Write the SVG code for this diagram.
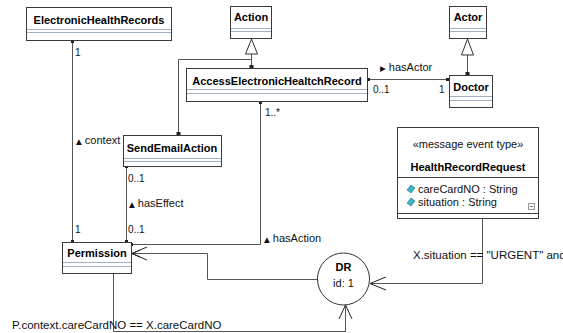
<svg xmlns="http://www.w3.org/2000/svg" width="563" height="333" viewBox="0 0 563 333">
<style>
.box{fill:#fff;stroke:#3a3a3a;stroke-width:1}
.sep{stroke:#9fb0c2;stroke-width:1}
.nm{font-family:"Liberation Sans",Arial,sans-serif;font-size:11px;font-weight:bold;fill:#000;text-anchor:middle}
.lb{font-family:"Liberation Sans",Arial,sans-serif;font-size:11px;fill:#111}
.ml{font-family:"Liberation Sans",Arial,sans-serif;font-size:10px;fill:#111}
.ct{font-family:"Liberation Sans",Arial,sans-serif;font-size:11.5px;fill:#111}
.tri{font-family:"DejaVu Sans",sans-serif;font-size:7.5px}
.ln{fill:none;stroke:#555;stroke-width:1}
.ar{fill:none;stroke:#222;stroke-width:1}
.gen{fill:#fff;stroke:#333;stroke-width:1}
.sq{fill:#222}
.dia{fill:#3bb3c3;stroke:#1d6f7a;stroke-width:0.6}
</style>

<g id="connectors">
  <path class="ln" d="M72.5,41 V242"/>
  <rect class="sq" x="71" y="40" width="3" height="3"/>
  <rect class="sq" x="71" y="240" width="3" height="3"/>
  <path class="ln" d="M126.5,166 V242"/>
  <rect class="sq" x="125" y="165" width="3" height="3"/>
  <rect class="sq" x="125" y="240" width="3" height="3"/>
  <path class="ln" d="M260.5,102 V244.5 H131"/>
  <rect class="sq" x="259" y="101" width="3" height="3"/>
  <rect class="sq" x="130" y="243" width="3" height="3"/>
  <path class="ln" d="M367,79.5 H449"/>
  <rect class="sq" x="367" y="78" width="3" height="3"/>
  <rect class="sq" x="446" y="78" width="3" height="3"/>
  <path class="ln" d="M251.5,54 V68"/>
  <polygon class="gen" points="251.5,39 245.5,54 257.5,54"/>
  <rect class="sq" x="249.5" y="65" width="4" height="4"/>
  <path class="ln" d="M251.5,59.5 H178.5 V135"/>
  <rect class="sq" x="176.5" y="132" width="4" height="4"/>
  <path class="ln" d="M467.5,55 V75"/>
  <polygon class="gen" points="467.5,39 461.5,55 473.5,55"/>
  <rect class="sq" x="465.5" y="72" width="4" height="4"/>
  <path class="ln" d="M317,279.5 H207.5 V253.5 H132"/>
  <path class="ar" d="M147,247 L132,253.5 L147,260 M140,250 L132,253.5 L140,257"/>
  <path class="ln" d="M482.5,219 V283.5 H370"/>
  <path class="ar" d="M386,277 L370,283.5 L386,290"/>
  <path class="ln" d="M113.5,273 V331.5 H345.5 V305"/>
  <path class="ar" d="M339,319 L345.5,305 L352,319"/>
</g>

<g id="ElectronicHealthRecords">
  <rect class="box" x="26.5" y="7.5" width="145" height="33"/>
  <line class="sep" x1="27" y1="29.5" x2="171" y2="29.5"/>
  <line class="sep" x1="27" y1="32.5" x2="171" y2="32.5"/>
  <text class="nm" x="99" y="24">ElectronicHealthRecords</text>
</g>

<g id="Action">
  <rect class="box" x="230.5" y="6.5" width="41" height="32"/>
  <line class="sep" x1="231" y1="28.5" x2="271" y2="28.5"/>
  <line class="sep" x1="231" y1="31.5" x2="271" y2="31.5"/>
  <text class="nm" x="251" y="21">Action</text>
</g>

<g id="Actor">
  <rect class="box" x="449.5" y="6.5" width="37" height="32"/>
  <line class="sep" x1="450" y1="28.5" x2="486" y2="28.5"/>
  <line class="sep" x1="450" y1="31.5" x2="486" y2="31.5"/>
  <text class="nm" x="468" y="21">Actor</text>
</g>

<g id="AccessElectronicHealtchRecord">
  <rect class="box" x="186.5" y="68.5" width="181" height="33"/>
  <line class="sep" x1="187" y1="89.5" x2="367" y2="89.5"/>
  <line class="sep" x1="187" y1="93.5" x2="367" y2="93.5"/>
  <text class="nm" x="277" y="85">AccessElectronicHealtchRecord</text>
</g>

<g id="Doctor">
  <rect class="box" x="449.5" y="75.5" width="43" height="32"/>
  <line class="sep" x1="450" y1="96.5" x2="492" y2="96.5"/>
  <line class="sep" x1="450" y1="100.5" x2="492" y2="100.5"/>
  <text class="nm" x="471" y="91">Doctor</text>
</g>

<g id="SendEmailAction">
  <rect class="box" x="123.5" y="135.5" width="98" height="31"/>
  <line class="sep" x1="124" y1="158.5" x2="221" y2="158.5"/>
  <line class="sep" x1="124" y1="161.5" x2="221" y2="161.5"/>
  <text class="nm" x="172" y="152">SendEmailAction</text>
</g>

<g id="Permission">
  <rect class="box" x="62.5" y="242.5" width="69" height="31"/>
  <line class="sep" x1="63" y1="262.5" x2="131" y2="262.5"/>
  <line class="sep" x1="63" y1="266.5" x2="131" y2="266.5"/>
  <text class="nm" x="97" y="257">Permission</text>
</g>

<g id="HealthRecordRequest">
  <rect class="box" x="397.5" y="127.5" width="141" height="91"/>
  <line class="box" x1="398" y1="177.5" x2="538" y2="177.5"/>
  <line class="box" x1="398" y1="213.5" x2="538" y2="213.5"/>
  <text class="lb" x="468" y="148" text-anchor="middle">«message event type»</text>
  <text class="nm" x="468" y="171">HealthRecordRequest</text>
  <polygon class="dia" points="411,185 415,188 411,193 407,190"/>
  <text class="lb" x="418" y="193">careCardNO : String</text>
  <polygon class="dia" points="411,198 415,201 411,206 407,203"/>
  <text class="lb" x="418" y="206">situation : String</text>
  <rect x="528.5" y="203.5" width="6" height="6" fill="#fff" stroke="#999"/>
  <line x1="530" y1="206.5" x2="533" y2="206.5" stroke="#777"/>
</g>

<g id="DR">
  <circle cx="343.5" cy="279" r="26" fill="#fff" stroke="#333"/>
  <text class="nm" x="343.5" y="271">DR</text>
  <text class="lb" x="343.5" y="287" text-anchor="middle">id: 1</text>
</g>

<g id="labels">
  <text class="ml" x="75" y="56">1</text>
  <text class="lb" x="76" y="144"><tspan class="tri">▲</tspan> context</text>
  <text class="ml" x="265" y="116">1..*</text>
  <text class="lb" x="380" y="71"><tspan class="tri">▶</tspan> hasActor</text>
  <text class="ml" x="373" y="93">0..1</text>
  <text class="ml" x="439" y="93">1</text>
  <text class="ml" x="128" y="182">0..1</text>
  <text class="lb" x="129" y="207"><tspan class="tri">▲</tspan> hasEffect</text>
  <text class="ml" x="128" y="233">0..1</text>
  <text class="ml" x="75" y="233">1</text>
  <text class="lb" x="264" y="242"><tspan class="tri">▲</tspan> hasAction</text>
  <text class="ct" x="12" y="329">P.context.careCardNO == X.careCardNO</text>
  <text class="ct" x="413" y="259">X.situation == "URGENT" and</text>
</g>
</svg>
